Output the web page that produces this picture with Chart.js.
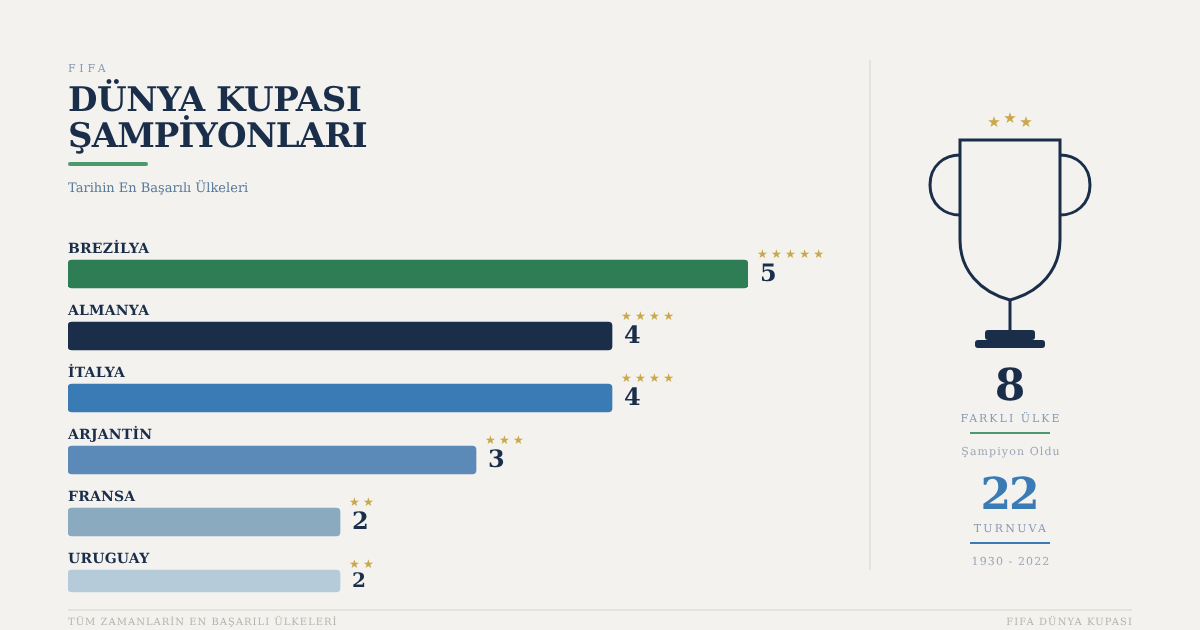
<!DOCTYPE html>
<html lang="tr">
<head>
<meta charset="utf-8">
<title>Dünya Kupası Şampiyonları</title>
<script src="https://cdn.jsdelivr.net/npm/chart.js@4/dist/chart.umd.min.js"></script>
<style>
  html, body { margin: 0; padding: 0; background: #f3f2ee; }
  #page { position: relative; width: 1200px; height: 630px; overflow: hidden; font-family: "DejaVu Serif", serif; text-rendering: geometricPrecision; }
  #chart { position: absolute; left: 0; top: 0; width: 1200px; height: 630px; }
  .t { position: absolute; white-space: nowrap; line-height: 1; }
  .c { left: 871px; width: 280px; text-align: center; }
  .rule { position: absolute; }
  svg { position: absolute; left: 0; top: 0; }
</style>
</head>
<body>
<div id="page">
  <canvas id="chart" width="1200" height="630"></canvas>

  <div class="t" style="left:68px;top:63px;font-size:11px;letter-spacing:3.7px;color:#8a9bb5">FIFA</div>
  <div class="t" style="left:68px;top:83px;font-size:34px;letter-spacing:-0.42px;font-weight:700;color:#1a2e4a">DÜNYA KUPASI</div>
  <div class="t" style="left:68px;top:119px;font-size:34px;letter-spacing:-0.9px;font-weight:700;color:#1a2e4a">ŞAMPİYONLARI</div>
  <div class="rule" style="left:68px;top:162px;width:80px;height:4px;border-radius:2px;background:#4a9a6e"></div>
  <div class="t" style="left:68px;top:182px;font-size:13px;color:#5a7a9a">Tarihin En Başarılı Ülkeleri</div>

  <div class="rule" style="left:869px;top:60px;width:2px;height:510px;background:#e4e3de"></div>

  <svg width="1200" height="630" fill="none" stroke="#1a2e4a" stroke-width="3">
    <path d="M960 140 H1060 V240 C1060 270 1040 292 1010 300 C980 292 960 270 960 240 Z"/>
    <path d="M960 155 C945 155 930 165 930 185 C930 205 945 215 960 215"/>
    <path d="M1060 155 C1075 155 1090 165 1090 185 C1090 205 1075 215 1060 215"/>
    <path d="M1010 300 V332"/>
    <rect x="985" y="330" width="50" height="10" rx="3" fill="#1a2e4a" stroke="none"/>
    <rect x="975" y="340" width="70" height="8" rx="3" fill="#1a2e4a" stroke="none"/>
    <g fill="#c9a84c" stroke="none" font-size="15" text-anchor="middle" font-family="DejaVu Sans">
      <text x="994" y="127">★</text>
      <text x="1010" y="123">★</text>
      <text x="1026" y="127">★</text>
    </g>
  </svg>

  <div class="t c" style="left:870px;top:364px;font-size:44px;font-weight:700;color:#1a2e4a">8</div>
  <div class="t c" style="top:413px;font-size:11px;letter-spacing:2px;color:#8a9bb5">FARKLI ÜLKE</div>
  <div class="rule" style="left:970px;top:432px;width:80px;height:2px;background:#4a9a6e"></div>
  <div class="t c" style="top:446px;font-size:11px;letter-spacing:1.1px;color:#9aa5b5">Şampiyon Oldu</div>
  <div class="t c" style="left:869px;top:473px;font-size:44px;letter-spacing:-2px;font-weight:700;color:#3a7ab5">22</div>
  <div class="t c" style="top:523px;font-size:11px;letter-spacing:2.2px;color:#8a9bb5">TURNUVA</div>
  <div class="rule" style="left:970px;top:542px;width:80px;height:2px;background:#3a7ab5"></div>
  <div class="t c" style="top:556px;font-size:11px;letter-spacing:1.1px;color:#9aa5b5">1930 - 2022</div>

  <div class="rule" style="left:68px;top:609px;width:1064px;height:2px;background:#e4e3de"></div>
  <div class="t" style="left:68px;top:617.5px;font-size:10px;letter-spacing:1px;color:#b5b5b0">TÜM ZAMANLARİN EN BAŞARILI ÜLKELERİ</div>
  <div class="t" style="right:67px;top:617.5px;font-size:10px;letter-spacing:1.1px;color:#b5b5b0">FIFA DÜNYA KUPASI</div>
</div>

<script>
  const countries = ['BREZİLYA', 'ALMANYA', 'İTALYA', 'ARJANTİN', 'FRANSA', 'URUGUAY'];
  const titles = [5, 4, 4, 3, 2, 2];
  const barColors = ['#2e7d55', '#1a2e4a', '#3a7ab5', '#5b8ab8', '#8aaabf', '#b5cbd9'];

  // the last row is thinner than the others, so it gets its own dataset
  const lastRow = countries.length - 1;
  const mainBars = titles.map((v, i) => i === lastRow ? null : v);
  const thinBars = titles.map((v, i) => i === lastRow ? v : null);

  const valueLabels = {
    id: 'valueLabels',
    beforeDraw(chart) {
      // carried into the axis tick labels
      chart.ctx.letterSpacing = '0.2px';
      chart.ctx.textRendering = 'geometricPrecision';
    },
    afterDatasetsUpdate(chart) {
      // thin bar sits against the top of its slot, not centred
      chart.getDatasetMeta(1).data[lastRow].y -= 3;
    },
    afterDatasetsDraw(chart) {
      const ctx = chart.ctx;
      ctx.save();
      ctx.textBaseline = 'middle';
      ctx.textAlign = 'left';
      titles.forEach((v, i) => {
        const thin = i === lastRow;
        const bar = chart.getDatasetMeta(thin ? 1 : 0).data[i];
        const top = bar.y - bar.height / 2;
        ctx.fillStyle = '#c9a84c';
        ctx.font = '12px "DejaVu Sans"';
        ctx.letterSpacing = '3.3px';
        ctx.fillText('★'.repeat(v), bar.x + 9, top - 5);
        ctx.letterSpacing = '0px';
        ctx.fillStyle = '#1a2e4a';
        ctx.font = 'bold ' + (thin ? 20 : 24) + 'px "DejaVu Serif"';
        ctx.fillText(String(v), bar.x + 12, bar.y + 1);
      });
      ctx.restore();
    }
  };

  new Chart(document.getElementById('chart'), {
    type: 'bar',
    data: {
      labels: countries,
      datasets: [
        { data: mainBars, backgroundColor: barColors, borderRadius: 4, borderSkipped: false, barThickness: 28 },
        { data: thinBars, backgroundColor: barColors, borderRadius: 4, borderSkipped: false, barThickness: 22 }
      ]
    },
    options: {
      indexAxis: 'y',
      responsive: false,
      animation: false,
      layout: { padding: { left: 68, right: 452, top: 243, bottom: 15 } },
      plugins: { legend: { display: false }, tooltip: { enabled: false } },
      scales: {
        x: { stacked: true, display: false, min: 0, max: 5 },
        y: {
          stacked: true,
          grid: { display: false, drawTicks: false },
          border: { display: false },
          ticks: {
            mirror: true,
            padding: 0,
            labelOffset: -24.5,
            color: '#1a2e4a',
            font: { family: '"DejaVu Serif"', size: 14, weight: 'bold' }
          }
        }
      }
    },
    plugins: [valueLabels]
  });
</script>
</body>
</html>
